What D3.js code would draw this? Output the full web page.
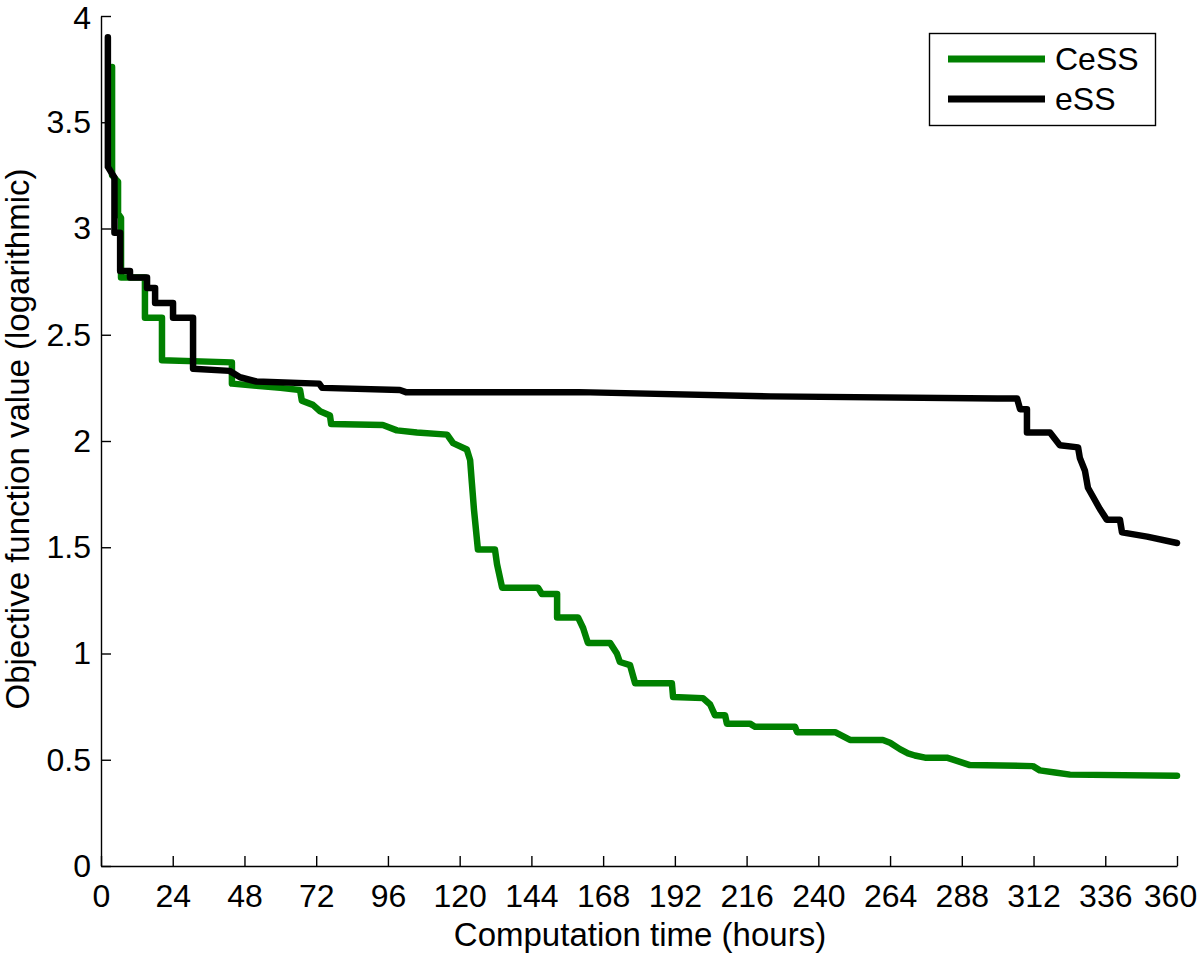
<!DOCTYPE html>
<html>
<head>
<meta charset="utf-8">
<script src="https://cdn.jsdelivr.net/npm/d3@7"></script>
<style>
  body { margin: 0; background: #fff; }
  text { font-family: "Liberation Sans", Arial, Helvetica, sans-serif; fill: #000; }
</style>
</head>
<body>
<div class="canvas"></div>
<script>
// series data: time (hours) and objective value (log)
var cess_time = [3.7, 3.7, 5.7, 5.7, 6.7, 6.7, 14.7, 14.7, 20.4, 20.4, 43.8, 43.8, 52, 60, 66.6, 67.2, 70.9, 73.3, 76.6, 77,
  94.3, 99, 105.7, 115.8, 117.8, 122.4, 123.5, 124.1, 124.8, 126.1, 131.8, 132.5, 134.2, 146.2, 147.5, 152.6, 152.6,
  159.6, 161.3, 162.9, 170.3, 172.6, 173.6, 177, 178.7, 191, 191.4, 201.4, 203.8, 205.4, 208.8, 209.4, 217.1, 218.8,
  232.2, 232.9, 245.6, 250.6, 261.6, 264, 267.3, 270, 272.3, 275.7, 283, 287.4, 290.7, 311.8, 314.1, 319.2, 324.2, 360]
var cess_value = [3.76, 3.25, 3.22, 3.07, 3.05, 2.77, 2.77, 2.58, 2.58, 2.38, 2.37, 2.27, 2.26, 2.25, 2.24, 2.19, 2.17, 2.14, 2.12, 2.08,
  2.075, 2.05, 2.04, 2.03, 1.99, 1.96, 1.91, 1.80, 1.675, 1.49, 1.49, 1.42, 1.31, 1.31, 1.28, 1.28, 1.17,
  1.17, 1.12, 1.05, 1.05, 1.00, 0.96, 0.945, 0.86, 0.86, 0.795, 0.79, 0.76, 0.71, 0.71, 0.67, 0.67, 0.655,
  0.655, 0.63, 0.63, 0.593, 0.593, 0.58, 0.55, 0.53, 0.52, 0.51, 0.51, 0.49, 0.475, 0.47, 0.45, 0.44, 0.43, 0.425]

var ess_time = [2.3, 2.3, 4.5, 4.5, 6.4, 6.4, 9.7, 9.7, 15.4, 15.4, 18.1, 18.1, 24.1, 24.1, 30.8, 30.8, 43, 46.5, 52, 73, 74,
  100, 102, 160, 224, 300, 306.5, 307.5, 309.8, 309.8, 317.5, 320.8, 326.9, 327.5, 329.2, 330.2, 332.6, 334.2, 336.5,
  340.9, 341.6, 350, 360]
var ess_value = [3.90, 3.29, 3.24, 2.98, 2.98, 2.80, 2.80, 2.77, 2.77, 2.72, 2.72, 2.65, 2.65, 2.58, 2.58, 2.34, 2.33, 2.30, 2.28, 2.27, 2.25,
  2.24, 2.23, 2.23, 2.21, 2.20, 2.20, 2.15, 2.15, 2.04, 2.04, 1.98, 1.97, 1.92, 1.86, 1.78, 1.72, 1.68, 1.63,
  1.63, 1.57, 1.55, 1.52]

var x_ticks = d3.range(0, 361, 24)
var y_ticks = [0, 0.5, 1, 1.5, 2, 2.5, 3, 3.5, 4]
var series_names = ['CeSS', 'eSS']
var series_colors = ['#008000', '#000000']

var font_size = 32
var label_size = 33

var svg = d3.select(".canvas").append("svg").attr("width", 1200).attr("height", 953)

var plot = {left: 101, right: 1177, top: 16, bottom: 866}

var x = d3.scaleLinear().domain([0, 360]).range([plot.left, plot.right])
var y = d3.scaleLinear().domain([0, 4]).range([plot.bottom, plot.top])

// x axis, ticks pointing inward
var xAxis = svg.append('g')
    .attr('transform', 'translate(0,' + plot.bottom + ')')
    .call(d3.axisBottom(x).tickValues(x_ticks).tickSize(-10).tickSizeOuter(0))
xAxis.select('.domain').attr('stroke', '#000').attr('stroke-width', 1.4)
xAxis.selectAll('.tick line').attr('stroke', '#000').attr('stroke-width', 1.4)
xAxis.selectAll('.tick text').attr('font-size', font_size).attr('font-family', '"Liberation Sans", Arial, sans-serif')
    .attr('dy', '0.71em').attr('y', 18)
    // last label nudged so it stays inside the picture
    .attr('x', function(d) { return d == 360 ? -7 : 0 })

// y axis
var yAxis = svg.append('g')
    .attr('transform', 'translate(' + plot.left + ',0)')
    .call(d3.axisLeft(y).tickValues(y_ticks).tickSize(-10).tickSizeOuter(0)
        .tickFormat(function(d) { return String(d) }))
yAxis.select('.domain').attr('stroke', '#000').attr('stroke-width', 1.4)
yAxis.selectAll('.tick line').attr('stroke', '#000').attr('stroke-width', 1.4)
yAxis.selectAll('.tick text').attr('font-size', font_size).attr('font-family', '"Liberation Sans", Arial, sans-serif')
    .attr('x', -10)
    // top label kept just inside the top edge
    .attr('y', function(d) { return d == 4 ? 2 : 0 })

// axis titles
svg.append('text')
    .attr('x', (plot.left + plot.right) / 2 + 1)
    .attr('y', 946)
    .attr('text-anchor', 'middle')
    .attr('font-size', label_size)
    .text('Computation time (hours)')

svg.append('text')
    .attr('transform', 'translate(29,' + ((plot.top + plot.bottom) / 2 - 2) + ') rotate(-90)')
    .attr('text-anchor', 'middle')
    .attr('font-size', label_size)
    .text('Objective function value (logarithmic)')

// lines
var line = d3.line()
    .x(function(d) { return x(d[0]) })
    .y(function(d) { return y(d[1]) })

var cess = d3.zip(cess_time, cess_value)
var ess = d3.zip(ess_time, ess_value)

svg.append('path')
    .datum(cess)
    .attr('d', line)
    .attr('fill', 'none')
    .attr('stroke', series_colors[0])
    .attr('stroke-width', 6.5)
    .attr('stroke-linejoin', 'round')
    .attr('stroke-linecap', 'round')

svg.append('path')
    .datum(ess)
    .attr('d', line)
    .attr('fill', 'none')
    .attr('stroke', series_colors[1])
    .attr('stroke-width', 6.5)
    .attr('stroke-linejoin', 'round')
    .attr('stroke-linecap', 'round')

// legend
svg.append('rect')
    .attr('x', 929.5).attr('y', 33.5)
    .attr('width', 226).attr('height', 92)
    .attr('fill', '#fff').attr('stroke', '#000').attr('stroke-width', 1.4)

series_names.forEach(function(name, i) {
    var ly = 59 + i * 40
    svg.append('line')
        .attr('x1', 948).attr('x2', 1045)
        .attr('y1', ly).attr('y2', ly)
        .attr('stroke', series_colors[i])
        .attr('stroke-width', 7)
    svg.append('text')
        .attr('x', 1055)
        .attr('y', ly + 11)
        .attr('font-size', font_size)
        .text(name)
})
</script>
</body>
</html>
